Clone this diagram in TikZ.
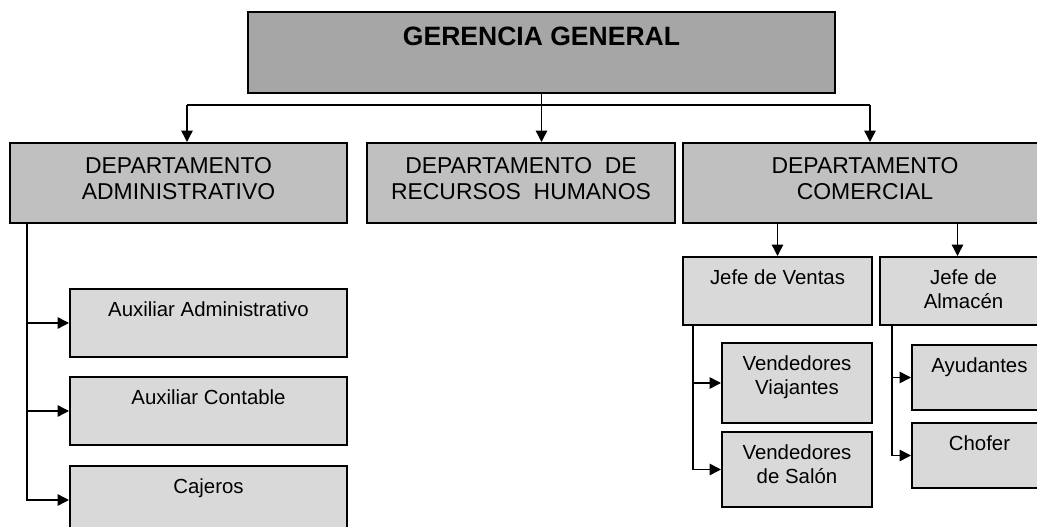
\documentclass[tikz,border=0pt]{standalone}
\usepackage{fontspec}
\setmainfont{Liberation Sans}
\usetikzlibrary{arrows.meta,positioning}
\definecolor{grisG}{HTML}{A6A6A6}
\definecolor{grisD}{HTML}{C0C0C0}
\definecolor{grisS}{HTML}{D9D9D9}
\begin{document}
\begin{tikzpicture}[x=0.75pt,y=-0.75pt,
  caja/.style={rectangle, draw=black, line width=1.5pt, inner sep=0pt},
  gerencia/.style={caja, fill=grisG, minimum width=440pt, minimum height=60.75pt},
  depto/.style={caja, fill=grisD, minimum height=60pt},
  puesto/.style={caja, fill=grisS},
  txtG/.style={anchor=north, yshift=-12pt, inner sep=0pt, align=center, font=\fontsize{19.9pt}{24pt}\selectfont\bfseries},
  txtD/.style={anchor=north, yshift=-11.7pt, inner sep=0pt, align=center, font=\fontsize{17.2pt}{19.5pt}\selectfont},
  txtP/.style={anchor=north, yshift=-10pt, inner sep=0pt, align=center, font=\fontsize{15.3pt}{18pt}\selectfont},
  linea/.style={line width=1.1pt},
  flecha/.style={linea, -{Triangle[length=8.5pt, width=8.5pt]}}]
\useasboundingbox (0,0) rectangle (1037,527);
\clip (0,0) rectangle (1037,527);

\node[gerencia, label={[txtG]north:GERENCIA GENERAL}] (gg) at (541.5,52.5){};

\node[depto, minimum width=252.75pt, label={[txtD]north:{DEPARTAMENTO\\ADMINISTRATIVO}}] (adm) at (178.5,183){};
\node[depto, minimum width=231pt, label={[txtD]north:{DEPARTAMENTO~ DE\\RECURSOS~ HUMANOS}}] (rrhh) at (521,183){};
\node[depto, minimum width=273pt, label={[txtD]north:{DEPARTAMENTO\\COMERCIAL}}] (com) at (865,183){};

\coordinate (busL) at (187,105);
\coordinate (busR) at (870,105);
\draw[linea] (busL) -- (busR);
\draw[flecha] (gg.south) -- (gg.south |- rrhh.north);
\draw[flecha] (busL) -- (busL |- adm.north);
\draw[flecha] (busR) -- (busR |- com.north);

\node[puesto, minimum width=207.75pt, minimum height=51pt, label={[txtP]north:Auxiliar Administrativo}] (aux1) at (208.5,323){};
\node[puesto, minimum width=207.75pt, minimum height=51pt, label={[txtP]north:Auxiliar Contable}] (aux2) at (208.5,411){};
\node[puesto, minimum width=207.75pt, minimum height=51pt, label={[txtP]north:Cajeros}] (caj) at (208.5,500){};
\draw[flecha] ([xshift=13.5pt]adm.south west) |- (aux1.west);
\draw[flecha] ([xshift=13.5pt]adm.south west) |- (aux2.west);
\draw[flecha] ([xshift=13.5pt]adm.south west) |- (caj.west);

\node[puesto, minimum width=141.75pt, minimum height=51pt, label={[txtP]north:Jefe de Ventas}] (ventas) at (777.5,291){};
\node[puesto, minimum width=125.25pt, minimum height=51pt, label={[txtP]north:{Jefe de\\Almacén}}] (almacen) at (963.5,291){};
\draw[flecha] (ventas.north |- com.south) -- (ventas.north);
\draw[flecha] ([xshift=-4.5pt]almacen.north |- com.south) -- ([xshift=-4.5pt]almacen.north);

\node[puesto, minimum width=112.5pt, minimum height=60pt, label={[txtP]north:{Vendedores\\Viajantes}}] (viaj) at (797,383){};
\node[puesto, minimum width=112.5pt, minimum height=56.25pt, label={[txtP]north:{Vendedores\\de Salón}}] (salon) at (797,469.5){};
\draw[flecha] ([xshift=8.25pt]ventas.south west) |- (viaj.west);
\draw[flecha] ([xshift=8.25pt]ventas.south west) |- (salon.west);

\node[puesto, minimum width=101.25pt, minimum height=48.75pt, label={[txtP]north:Ayudantes}] (ayud) at (979.5,377.5){};
\node[puesto, minimum width=101.25pt, minimum height=48.75pt, label={[txtP]north:Chofer}] (chofer) at (979.5,455.5){};
\draw[flecha] ([xshift=9.75pt]almacen.south west) |- (ayud.west);
\draw[flecha] ([xshift=9.75pt]almacen.south west) |- (chofer.west);

\end{tikzpicture}
\end{document}
